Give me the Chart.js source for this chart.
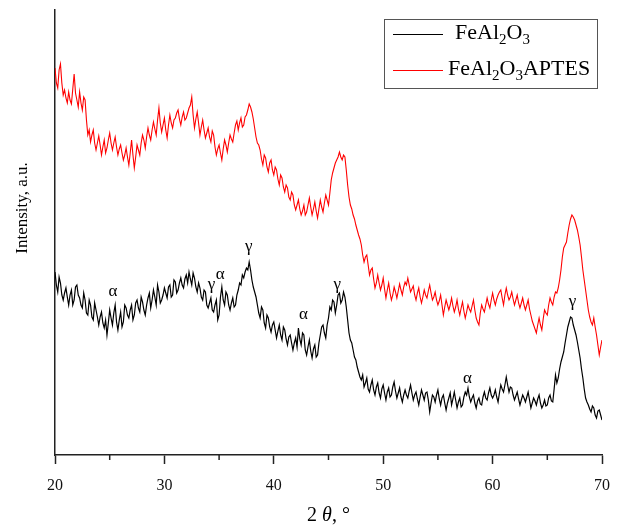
<!DOCTYPE html>
<html>
<head>
<meta charset="utf-8">
<script src="https://cdn.jsdelivr.net/npm/chart.js@4.4.1/dist/chart.umd.min.js"></script>
<style>
  html, body { margin: 0; padding: 0; background: #fff; }
  canvas { display: block; }
</style>
</head>
<body>
<canvas id="grafico" width="623" height="526"></canvas>
<script>
// === Dados (intensidade em unidades arbitrárias) ===
const angleStart = 20;
const angleStep = 0.125;   // passo de leitura em 2θ

const seriesNames = ["FeAl2O3", "FeAl2O3APTES"];
const seriesColors = ["#000000", "#ff0000"];

const blackValues = [
  183, 170, 163, 178, 172, 160, 155, 162, 167, 158, 150, 160, 165, 150, 155, 168,
  170, 160, 157, 150, 147, 162, 155, 142, 140, 155, 150, 138, 135, 152, 145, 138,
  130, 138, 143, 132, 127, 135, 120, 132, 145, 137, 130, 142, 150, 133, 125, 135,
  143, 128, 133, 150, 147, 140, 137, 145, 150, 135, 140, 152, 155, 147, 143, 158,
  153, 145, 140, 150, 157, 162, 147, 155, 165, 158, 150, 170, 163, 152, 155, 160,
  167, 162, 157, 168, 170, 158, 160, 175, 173, 162, 165, 172, 177, 170, 167, 176,
  180, 172, 183, 176, 170, 182, 177, 168, 163, 172, 167, 158, 155, 165, 163, 150,
  147, 152, 157, 145, 143, 150, 155, 135, 140, 158, 168, 155, 150, 163, 160, 150,
  145, 152, 157, 148, 150, 160, 165, 172, 170, 180, 177, 183, 187, 185, 193, 185,
  175, 168, 163, 158, 150, 142, 137, 148, 145, 132, 127, 140, 137, 128, 123, 130,
  133, 125, 117, 124, 130, 120, 115, 128, 125, 116, 110, 118, 120, 112, 105, 112,
  117, 108, 127, 116, 110, 122, 120, 105, 100, 108, 115, 104, 97, 106, 110, 98,
  100, 112, 120, 128, 130, 122, 117, 130, 137, 148, 145, 155, 153, 142, 150, 160,
  162, 152, 155, 163, 158, 148, 135, 122, 115, 112, 105, 98, 95, 88, 83, 78,
  75, 80, 68, 72, 77, 66, 63, 70, 75, 65, 60, 68, 72, 62, 57, 66,
  70, 62, 55, 63, 67, 58, 60, 68, 73, 64, 57, 62, 67, 58, 53, 60,
  65, 60, 57, 64, 70, 62, 55, 60, 63, 56, 50, 58, 65, 60, 55, 62,
  63, 55, 43, 52, 60, 58, 53, 60, 65, 56, 50, 57, 60, 52, 45, 52,
  57, 62, 50, 56, 63, 55, 47, 53, 57, 48, 50, 58, 63, 60, 67, 58,
  53, 57, 60, 52, 47, 54, 57, 51, 50, 58, 63, 57, 55, 62, 67, 60,
  57, 60, 65, 58, 53, 62, 70, 66, 63, 70, 78, 70, 63, 68, 67, 60,
  55, 59, 63, 56, 50, 55, 60, 57, 53, 58, 63, 55, 47, 52, 57, 54,
  50, 56, 60, 52, 47, 50, 55, 49, 50, 57, 60, 54, 53, 66, 80, 72,
  77, 86, 93, 98, 103, 112, 120, 128, 133, 138, 137, 130, 125, 120, 113, 105,
  97, 86, 77, 66, 57, 53, 50, 46, 43, 49, 47, 40, 37, 44, 45, 40,
  35
];

const redValues = [
  387, 372, 367, 385, 391, 372, 360, 365, 357, 352, 363, 355, 351, 366, 381, 362,
  355, 348, 363, 352, 345, 358, 355, 335, 320, 325, 313, 320, 325, 312, 305, 312,
  319, 310, 300, 308, 315, 302, 307, 315, 322, 312, 305, 312, 318, 308, 300, 306,
  310, 302, 295, 300, 307, 298, 290, 302, 315, 300, 287, 298, 310, 305, 300, 312,
  320, 315, 307, 318, 327, 320, 315, 325, 333, 326, 320, 335, 347, 332, 323, 330,
  337, 325, 317, 330, 340, 332, 327, 335, 337, 342, 345, 336, 330, 338, 343, 335,
  337, 342, 347, 350, 358, 340, 327, 336, 343, 332, 320, 328, 335, 325, 317, 322,
  327, 318, 313, 324, 320, 308, 300, 306, 310, 302, 295, 306, 315, 310, 303, 312,
  320, 316, 313, 322, 330, 334, 325, 332, 337, 328, 330, 338, 340, 345, 351, 348,
  343, 336, 327, 318, 312, 310, 305, 296, 290, 300, 297, 288, 283, 292, 295, 285,
  280, 288, 285, 276, 270, 280, 277, 268, 263, 270, 267, 258, 255, 263, 260, 250,
  245, 250, 255, 246, 240, 244, 250, 240, 243, 250, 257, 248, 240, 246, 253, 244,
  237, 246, 255, 248, 243, 252, 260, 255, 250, 262, 275, 282, 287, 292, 295, 298,
  303, 298, 295, 300, 298, 285, 270, 258, 250, 246, 240, 236, 230, 225, 220, 216,
  210, 200, 193, 198, 200, 190, 180, 185, 187, 176, 167, 172, 180, 172, 165, 170,
  177, 166, 157, 165, 172, 162, 155, 160, 168, 163, 157, 164, 171, 165, 160, 168,
  173, 170, 177, 170, 163, 166, 169, 160, 155, 162, 167, 158, 152, 158, 165, 160,
  157, 164, 170, 162, 155, 158, 163, 155, 150, 154, 160, 150, 140, 148, 155, 150,
  145, 150, 157, 149, 143, 148, 155, 146, 140, 147, 153, 144, 137, 143, 150, 146,
  143, 149, 155, 145, 137, 133, 130, 142, 150, 146, 143, 150, 157, 151, 147, 155,
  162, 155, 150, 156, 160, 163, 165, 157, 150, 160, 167, 160, 155, 158, 163, 156,
  150, 155, 160, 152, 147, 152, 157, 150, 145, 150, 155, 146, 140, 134, 130, 126,
  122, 130, 137, 130, 125, 136, 145, 142, 140, 150, 157, 153, 150, 158, 163, 162,
  167, 175, 185, 198, 207, 210, 213, 222, 230, 236, 240, 238, 235, 230, 225, 218,
  210, 198, 185, 175, 165, 155, 145, 138, 133, 130, 137, 128, 120, 110, 100, 108,
  115
];

// Marcações das fases (α, γ) sobre a curva preta
const peakLabels = ["α", "γ", "α", "γ", "α", "γ", "α", "γ"];
const peakAngles = [25.3, 34.3, 35.1, 37.7, 42.7, 45.8, 57.7, 67.3];
const peakHeights = [163, 170, 180, 208, 140, 170, 76, 153];

const minorTicks = [25, 35, 45, 55, 65];

// === Montar pontos ===
function montarPontos(valores) {
  return valores.map((v, i) => ({ x: angleStart + i * angleStep, y: v }));
}

// desenha "FeAl2O3..." com os números em subscrito
function textoQuimico(ctx, texto, x, y, tam) {
  const partes = texto.match(/(\d+|\D+)/g);
  let cx = x;
  partes.forEach(p => {
    const sub = /^\d+$/.test(p);
    ctx.font = (sub ? Math.round(tam * 0.68) : tam) + 'px "Liberation Serif"';
    ctx.fillText(p, cx, sub ? y + tam * 0.3 : y);
    cx += ctx.measureText(p).width;
  });
}

const extras = {
  id: "extras",
  afterDraw(chart) {
    const { ctx, chartArea, scales: { x, y } } = chart;
    ctx.save();

    // ticks menores no eixo x
    ctx.strokeStyle = "#222";
    ctx.lineWidth = 1.5;
    minorTicks.forEach(v => {
      const px = x.getPixelForValue(v);
      ctx.beginPath();
      ctx.moveTo(px, chartArea.bottom);
      ctx.lineTo(px, chartArea.bottom + 5);
      ctx.stroke();
    });

    // rótulos α / γ
    ctx.fillStyle = "#000";
    ctx.textAlign = "center";
    ctx.textBaseline = "middle";
    ctx.font = '17px "Liberation Serif"';
    peakLabels.forEach((t, i) => {
      ctx.fillText(t, x.getPixelForValue(peakAngles[i]), y.getPixelForValue(peakHeights[i]));
    });

    // título do eixo y
    ctx.save();
    ctx.translate(23, 208);
    ctx.rotate(-Math.PI / 2);
    ctx.font = '17px "Liberation Serif"';
    ctx.fillText("Intensity, a.u.", 0, 0);
    ctx.restore();

    // título do eixo x: 2 θ, °
    ctx.textAlign = "left";
    ctx.textBaseline = "alphabetic";
    const partesX = [["2 ", ""], ["θ", "italic "], [", °", ""]];
    let larg = 0;
    partesX.forEach(([t, st]) => { ctx.font = st + '20px "Liberation Serif"'; larg += ctx.measureText(t).width; });
    let cx = (chartArea.left + chartArea.right) / 2 - larg / 2;
    partesX.forEach(([t, st]) => {
      ctx.font = st + '20px "Liberation Serif"';
      ctx.fillText(t, cx, 521);
      cx += ctx.measureText(t).width;
    });

    // legenda
    ctx.strokeStyle = "#555";
    ctx.lineWidth = 1;
    ctx.strokeRect(384.5, 19.5, 213, 69);
    const linhasY = [34, 70];
    const textoX = [455, 448];
    chart.data.datasets.forEach((ds, i) => {
      ctx.strokeStyle = ds.borderColor;
      ctx.lineWidth = 1;
      ctx.beginPath();
      ctx.moveTo(393, linhasY[i] + 0.5);
      ctx.lineTo(443, linhasY[i] + 0.5);
      ctx.stroke();
      ctx.fillStyle = "#000";
      ctx.textBaseline = "middle";
      textoQuimico(ctx, seriesNames[i], textoX[i], linhasY[i] - 1, 22);
    });

    ctx.restore();
  }
};

new Chart(document.getElementById("grafico"), {
  type: "line",
  data: {
    datasets: [
      {
        label: seriesNames[0],
        data: montarPontos(blackValues),
        borderColor: seriesColors[0],
        borderWidth: 1.2,
        pointRadius: 0,
        tension: 0,
      },
      {
        label: seriesNames[1],
        data: montarPontos(redValues),
        borderColor: seriesColors[1],
        borderWidth: 1.1,
        pointRadius: 0,
        tension: 0,
      },
    ],
  },
  options: {
    responsive: false,
    animation: false,
    devicePixelRatio: 1,
    layout: { padding: { top: 10, right: 21, left: 0, bottom: 0 } },
    plugins: {
      legend: { display: false },
      tooltip: { enabled: false },
    },
    scales: {
      x: {
        type: "linear",
        min: 20,
        max: 70,
        afterFit: s => { s.height = 71; },
        ticks: {
          stepSize: 10,
          color: "#111",
          padding: 12,
          font: { family: "Liberation Serif", size: 16 },
          maxRotation: 0,
        },
        grid: {
          display: true,
          drawOnChartArea: false,
          drawTicks: true,
          tickLength: 9,
          tickColor: "#222",
          tickWidth: 1.5,
        },
        border: { display: true, color: "#222", width: 1.5 },
      },
      y: {
        min: 0,
        max: 445,
        afterFit: s => { s.width = 55; },
        ticks: { display: false },
        grid: { display: false },
        border: { display: true, color: "#222", width: 1.5 },
      },
    },
  },
  plugins: [extras],
});
</script>
</body>
</html>
